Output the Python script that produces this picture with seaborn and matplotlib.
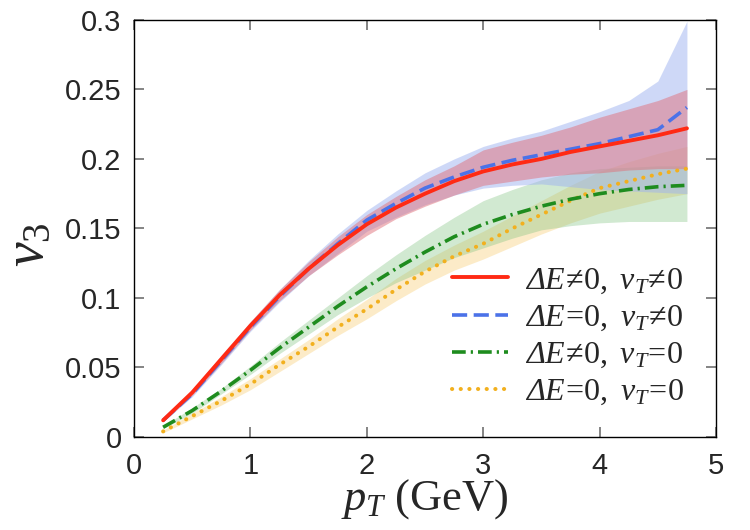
import numpy as np
import pandas as pd
import seaborn as sns
import matplotlib
matplotlib.use("Agg")
import matplotlib.pyplot as plt

pt = [0.25, 0.5, 0.75, 1.0, 1.25, 1.5, 1.75, 2.0, 2.25, 2.5, 2.75, 3.0, 3.25, 3.5, 3.75, 4.0, 4.25, 4.5, 4.75]

red = [0.012, 0.032, 0.056, 0.080, 0.102, 0.121, 0.138, 0.153, 0.165, 0.175, 0.184, 0.191, 0.196, 0.200, 0.205, 0.209, 0.213, 0.217, 0.222]
red_lo = [0.011, 0.030, 0.053, 0.077, 0.098, 0.116, 0.131, 0.145, 0.157, 0.166, 0.174, 0.181, 0.184, 0.187, 0.189, 0.190, 0.192, 0.193, 0.193]
red_hi = [0.013, 0.034, 0.059, 0.083, 0.106, 0.126, 0.144, 0.160, 0.173, 0.185, 0.195, 0.2065, 0.212, 0.217, 0.223, 0.230, 0.236, 0.242, 0.250]

blue = [0.012, 0.031, 0.055, 0.079, 0.101, 0.121, 0.139, 0.156, 0.168, 0.179, 0.187, 0.194, 0.199, 0.203, 0.207, 0.211, 0.216, 0.221, 0.237]
blue_lo = [0.011, 0.029, 0.052, 0.076, 0.097, 0.116, 0.132, 0.148, 0.158, 0.167, 0.174, 0.179, 0.181, 0.182, 0.180, 0.178, 0.177, 0.176, 0.175]
blue_hi = [0.013, 0.033, 0.058, 0.083, 0.106, 0.127, 0.146, 0.163, 0.177, 0.190, 0.200, 0.209, 0.215, 0.220, 0.227, 0.234, 0.242, 0.256, 0.299]

green = [0.007, 0.019, 0.033, 0.048, 0.064, 0.079, 0.094, 0.108, 0.121, 0.133, 0.144, 0.153, 0.160, 0.166, 0.171, 0.175, 0.178, 0.180, 0.181]
green_lo = [0.006, 0.017, 0.031, 0.045, 0.060, 0.074, 0.088, 0.100, 0.111, 0.120, 0.129, 0.136, 0.143, 0.149, 0.152, 0.154, 0.155, 0.155, 0.155]
green_hi = [0.008, 0.021, 0.035, 0.051, 0.068, 0.084, 0.100, 0.116, 0.131, 0.145, 0.158, 0.170, 0.178, 0.185, 0.190, 0.193, 0.194, 0.195, 0.195]

orange = [0.004, 0.015, 0.026, 0.038, 0.052, 0.065, 0.079, 0.092, 0.106, 0.119, 0.130, 0.139, 0.150, 0.160, 0.170, 0.179, 0.184, 0.189, 0.193]
orange_lo = [0.003, 0.013, 0.023, 0.034, 0.047, 0.060, 0.073, 0.085, 0.098, 0.110, 0.120, 0.128, 0.137, 0.146, 0.154, 0.161, 0.166, 0.171, 0.175]
orange_hi = [0.005, 0.017, 0.029, 0.042, 0.056, 0.070, 0.085, 0.099, 0.114, 0.127, 0.138, 0.148, 0.159, 0.170, 0.181, 0.191, 0.198, 0.204, 0.209]

labels = [r"$\mathsf{\Delta E}\!\neq\!0,\ v_T\!\neq\!0$",
          r"$\mathsf{\Delta E}\!=\!0,\ v_T\!\neq\!0$",
          r"$\mathsf{\Delta E}\!\neq\!0,\ v_T\!=\!0$",
          r"$\mathsf{\Delta E}\!=\!0,\ v_T\!=\!0$"]

xticks = [0, 1, 2, 3, 4, 5]
yticks = [0, 0.05, 0.1, 0.15, 0.2, 0.25, 0.3]
ytick_labels = ["0", "0.05", "0.1", "0.15", "0.2", "0.25", "0.3"]

sns.set_theme(style="ticks")
plt.rcParams["font.family"] = ["Liberation Sans", "DejaVu Sans"]
plt.rcParams["mathtext.fontset"] = "custom"
plt.rcParams["mathtext.rm"] = "Liberation Serif"
plt.rcParams["mathtext.it"] = "Liberation Serif:italic"
plt.rcParams["mathtext.sf"] = "Liberation Serif:italic"
plt.rcParams["mathtext.bf"] = "Liberation Serif:bold"

fig = plt.figure(figsize=(7.5, 5.3), dpi=100)
ax = fig.add_axes([0.1787, 0.1755, 0.776, 0.787])

series = [
    (orange, orange_lo, orange_hi, "#f2b01e", "#f7c862", 0.35, labels[3], "orange"),
    (green, green_lo, green_hi, "#1e8c1e", "#7cc07c", 0.35, labels[2], "green"),
    (blue, blue_lo, blue_hi, "#4b72e8", "#9fb3f0", 0.5, labels[1], "blue"),
    (red, red_lo, red_hi, "#ff2a14", "#e0707a", 0.5, labels[0], "red"),
]

for vals, lo, hi, lc, fc, alpha, lab, key in series:
    ax.fill_between(pt, lo, hi, color=fc, alpha=alpha, linewidth=0)
    if key == "red":
        sns.lineplot(x=pt, y=vals, ax=ax, color=lc, linewidth=2.8, label=lab)
    elif key == "blue":
        sns.lineplot(x=pt, y=vals, ax=ax, color=lc, linewidth=2.6, label=lab,
                     linestyle=(0, (4.2, 1.8)))
    elif key == "green":
        sns.lineplot(x=pt, y=vals, ax=ax, color=lc, linewidth=2.6, label=lab,
                     linestyle=(0, (3.8, 1.4, 0.6, 1.4)))
    else:
        sns.lineplot(x=pt, y=vals, ax=ax, color=lc, linewidth=2.9, label=lab,
                     linestyle=(0, (0.05, 2.1)), dash_capstyle="round")

ax.set_xlim(0, 5)
ax.set_ylim(0, 0.3)
ax.set_xticks(xticks)
ax.set_xticklabels([str(t) for t in xticks])
ax.set_yticks(yticks)
ax.set_yticklabels(ytick_labels)
ax.tick_params(axis="both", which="both", direction="in", length=7, width=1.2,
               color="#707070", labelsize=21, top=True, right=True, pad=9)
ax.tick_params(axis="x", pad=11)
for s in ax.spines.values():
    s.set_color("black")
    s.set_linewidth(1.0)

ax.set_xlabel(r"$p_T\ \mathrm{(GeV)}$", fontsize=32, labelpad=-2)
ax.set_ylabel(r"$v_3$", fontsize=40)
ax.yaxis.set_label_coords(-0.136, 0.46)

h, l = ax.get_legend_handles_labels()
order = [labels.index(x) for x in l]
pairs = sorted(zip(order, h, l))
leg = ax.legend([p[1] for p in pairs], [p[2] for p in pairs], loc="lower right",
                bbox_to_anchor=(0.995, 0.002), frameon=False, fontsize=23,
                handlelength=1.75, handletextpad=0.55, labelspacing=0.22)

fig.savefig("out.png", dpi=100)
